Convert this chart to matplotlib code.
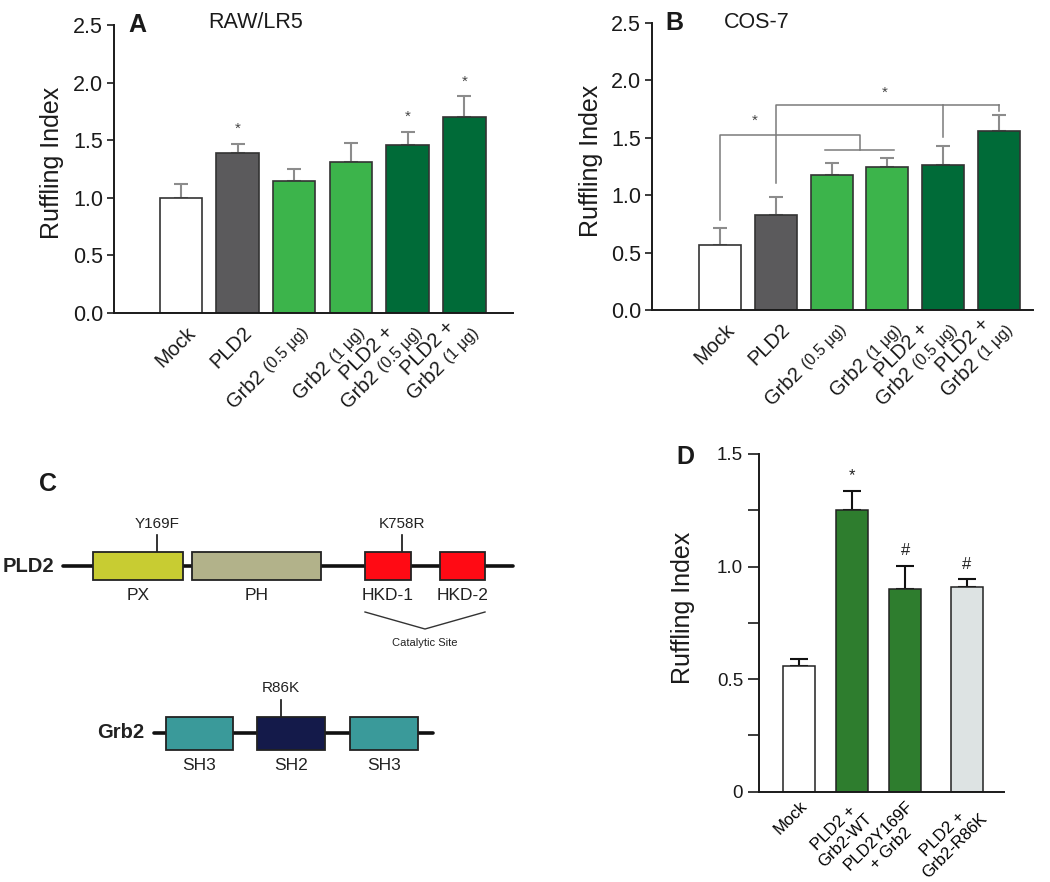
import matplotlib
matplotlib.use('Agg')
import matplotlib.pyplot as plt
import numpy as np
from matplotlib.font_manager import FontProperties
from matplotlib.patches import Rectangle

plt.rcParams['font.family'] = ['Liberation Sans', 'DejaVu Sans']

# ---------------- data ----------------
ab_label_lines = [
    [('Mock', '')],
    [('PLD2', '')],
    [('Grb2', '(0.5 μg)')],
    [('Grb2', '(1 μg)')],
    [('PLD2 +', ''), ('Grb2', '(0.5 μg)')],
    [('PLD2 +', ''), ('Grb2', '(1 μg)')],
]
ab_colors = ['#ffffff', '#5b5a5c', '#3cb44b', '#3cb44b', '#006b38', '#006b38']

a_values = [1.00, 1.39, 1.15, 1.31, 1.455, 1.70]
a_errors = [0.12, 0.08, 0.10, 0.17, 0.115, 0.18]
a_marks = ['', '*', '', '', '*', '*']

b_values = [0.57, 0.83, 1.175, 1.245, 1.26, 1.56]
b_errors = [0.145, 0.153, 0.105, 0.076, 0.168, 0.14]

# B significance brackets
b_bracket1 = dict(src=0, dst=[2, 3], start=0.783, top=1.528, sub=1.392, star=(0.62, 1.65))
b_bracket2 = dict(src=1, dst=[4, 5], start=1.102, top=1.784, ends=[1.508, 1.735], star=(2.95, 1.895))

d_labels = ['Mock', 'PLD2 +\nGrb2-WT', 'PLD2Y169F\n+ Grb2', 'PLD2 +\nGrb2-R86K']
d_values = [0.558, 1.25, 0.899, 0.908]
d_errors = [0.03, 0.086, 0.104, 0.035]
d_marks = ['', '*', '#', '#']
d_colors = ['#ffffff', '#2e7d2e', '#2e7d2e', '#dde3e3']

# Panel C schematic (diagram units)
pld2_span = (63, 513)
pld2_domains = ['PX', 'PH', 'HKD-1', 'HKD-2']
pld2_starts = [93, 192, 365, 440]
pld2_ends = [183, 321, 411, 485]
pld2_colors = ['#c8cc32', '#b2b28a', '#ff0a14', '#ff0a14']
pld2_mut_labels = ['Y169F', 'K758R']
pld2_mut_pos = [157, 402]
grb2_span = (154, 433)
grb2_domains = ['SH3', 'SH2', 'SH3']
grb2_starts = [166, 257, 350]
grb2_ends = [233, 325, 418]
grb2_colors = ['#3a9a9a', '#141a4a', '#3a9a9a']
grb2_mut_labels = ['R86K']
grb2_mut_pos = [281]

W, H = 1050, 882
fig = plt.figure(figsize=(W / 100, H / 100), dpi=100)
renderer = fig.canvas.get_renderer()
TXT = '#1a1a1a'


def ax_px(l, r, top, bottom):
    return fig.add_axes([l / W, 1 - bottom / H, (r - l) / W, (bottom - top) / H])


def text_w(s, size):
    prop = FontProperties(family='Liberation Sans', size=size)
    w, h, d = renderer.get_text_width_height_descent(s, prop, ismath=False)
    return w * 72 / fig.dpi


def rotated_labels(ax, xs, label_lines, main_size, small_size, step, anchor):
    c = s = np.sqrt(0.5)
    trans = ax.get_xaxis_transform()
    for x, lines in zip(xs, label_lines):
        widths = []
        for main, small in lines:
            w = text_w(main, main_size)
            if small:
                w += 0.3 * main_size + text_w(small, small_size)
            widths.append(w)
        n = len(lines)
        uc = -widths[-1] / 2
        for i, ((main, small), w) in enumerate(zip(lines, widths)):
            v = (n - 1 - i) * step
            u0 = uc - w / 2

            def pos(u):
                return (anchor[0] + u * c - v * s, anchor[1] + u * s + v * c)
            ax.annotate(main, xy=(x, 0), xycoords=trans, xytext=pos(u0),
                        textcoords='offset points', rotation=45, rotation_mode='anchor',
                        ha='left', va='baseline', fontsize=main_size, color=TXT,
                        annotation_clip=False)
            if small:
                u1 = u0 + text_w(main, main_size) + 0.3 * main_size
                ax.annotate(small, xy=(x, 0), xycoords=trans, xytext=pos(u1),
                            textcoords='offset points', rotation=45, rotation_mode='anchor',
                            ha='left', va='baseline', fontsize=small_size, color=TXT,
                            annotation_clip=False)


def style_ab(ax, xlim):
    ax.set_xlim(*xlim)
    ax.set_ylim(0, 2.5)
    for sp in ['top', 'right']:
        ax.spines[sp].set_visible(False)
    for sp in ['left', 'bottom']:
        ax.spines[sp].set_linewidth(1.4)
        ax.spines[sp].set_color(TXT)
    ticks = np.arange(0, 2.51, 0.5)
    ax.set_yticks(ticks)
    ax.set_yticklabels(['%.1f' % t for t in ticks])
    ax.tick_params(axis='y', length=5, width=1.2, labelsize=15.5, pad=3, colors=TXT)
    ax.tick_params(axis='x', length=0, labelbottom=False)
    ax.set_ylabel('Ruffling Index', fontsize=18, va='center', color=TXT)


def bars_ab(ax, values, errors):
    x = np.arange(len(values))
    ax.errorbar(x, values, yerr=[np.zeros(len(errors)), errors], fmt='none',
                ecolor='#8c8c8c', elinewidth=1.5, capsize=4.8, capthick=1.5, zorder=1)
    ax.bar(x, values, width=0.75, color=ab_colors, edgecolor='#333333', linewidth=1.2, zorder=2)
    return x


# ---------------- Panel A ----------------
axA = ax_px(114, 513, 25, 313)
xA = bars_ab(axA, a_values, a_errors)
style_ab(axA, (-1.18, 5.86))
axA.yaxis.set_label_coords(-0.155, 0.52)
for xi, v, e, m in zip(xA, a_values, a_errors, a_marks):
    if m:
        axA.text(xi, v + e + 0.07, m, ha='center', va='bottom', fontsize=11, color='#444444')
rotated_labels(axA, xA, ab_label_lines, 14.5, 11.5, 15, (11, -15))
axA.text(0.058, 1.0, 'A', transform=axA.transAxes, fontsize=18, fontweight='bold',
         ha='center', va='center', color=TXT)
fig.text(256 / W, 1 - 23 / H, 'RAW/LR5', fontsize=15.5, ha='center', va='center', color=TXT)

# ---------------- Panel B ----------------
axB = ax_px(652, 1033, 23, 310)
xB = bars_ab(axB, b_values, b_errors)
style_ab(axB, (-1.22, 5.61))
axB.yaxis.set_label_coords(-0.16, 0.52)
bc = '#7a7a7a'
br = b_bracket1
mid = np.mean(br['dst'])
axB.plot([br['src'], br['src'], mid, mid], [br['start'], br['top'], br['top'], br['sub']],
         color=bc, lw=1.1, zorder=3)
axB.plot([br['dst'][0] - 0.12, br['dst'][1] + 0.12], [br['sub'], br['sub']], color=bc, lw=1.1, zorder=3)
axB.text(*br['star'], '*', ha='center', va='center', fontsize=11, color='#444444')
br = b_bracket2
axB.plot([br['src'], br['src'], br['dst'][1]], [br['start'], br['top'], br['top']], color=bc, lw=1.1, zorder=3)
for d, e in zip(br['dst'], br['ends']):
    axB.plot([d, d], [br['top'], e], color=bc, lw=1.1, zorder=3)
axB.text(*br['star'], '*', ha='center', va='center', fontsize=11, color='#444444')
rotated_labels(axB, xB, ab_label_lines, 14.5, 11.5, 15, (11, -15))
axB.text(0.06, 1.0, 'B', transform=axB.transAxes, fontsize=18, fontweight='bold',
         ha='center', va='center', color=TXT)
fig.text(757 / W, 1 - 22 / H, 'COS-7', fontsize=15.5, ha='center', va='center', color=TXT)

# ---------------- Panel D ----------------
axD = ax_px(759, 1004, 454, 791.7)
xD = np.array([0, 1, 2, 3.15])
axD.errorbar(xD, d_values, yerr=[np.zeros(4), d_errors], fmt='none', ecolor='#111111',
             elinewidth=1.5, capsize=6.5, capthick=1.5, zorder=1)
axD.bar(xD, d_values, width=0.6, color=d_colors, edgecolor='#222222', linewidth=1.1, zorder=2)
for xi, v, e, m in zip(xD, d_values, d_errors, d_marks):
    if m:
        axD.text(xi, v + e + 0.035, m, ha='center', va='bottom', fontsize=12, color='#222222')
axD.set_xlim(-0.75, 3.85)
axD.set_ylim(0, 1.5)
for sp in ['top', 'right']:
    axD.spines[sp].set_visible(False)
for sp in ['left', 'bottom']:
    axD.spines[sp].set_linewidth(1.4)
    axD.spines[sp].set_color(TXT)
axD.set_yticks([0, 0.5, 1.0, 1.5])
axD.set_yticklabels(['0', '0.5', '1.0', '1.5'])
axD.set_yticks([0.25, 0.75, 1.25], minor=True)
axD.tick_params(axis='y', which='both', length=8, width=1.2, labelsize=13.5, colors=TXT)
axD.set_xticks(xD)
axD.set_xticklabels(d_labels, rotation=45, ha='right', va='top', rotation_mode='anchor',
                    multialignment='center', fontsize=12, linespacing=1.2)
axD.tick_params(axis='x', length=0, pad=5)
axD.set_ylabel('Ruffling Index', fontsize=18, va='center', color=TXT)
axD.yaxis.set_label_coords(-0.31, 0.545)
fig.text(685 / W, 1 - 457 / H, 'D', fontsize=18, fontweight='bold', ha='center', va='center',
         color=TXT)

# ---------------- Panel C ----------------
axC = ax_px(0, 640, 440, 882)
axC.set_xlim(0, 640)
axC.set_ylim(882, 440)
axC.axis('off')
axC.text(48, 484, 'C', fontsize=18, fontweight='bold', ha='center', va='center', color=TXT)


def draw_protein(name, name_x, y, span, starts, ends, colors, labels, half_h,
                 mut_pos, mut_labels, lab_dy):
    axC.plot(span, [y, y], color='#111111', lw=2.6, solid_capstyle='round', zorder=1)
    for s0, e0, col, lab in zip(starts, ends, colors, labels):
        axC.add_patch(Rectangle((s0, y - half_h), e0 - s0, 2 * half_h, facecolor=col,
                                edgecolor='#222222', lw=1.3, zorder=2))
        axC.text((s0 + e0) / 2, y + lab_dy, lab, ha='center', va='center', fontsize=12.5,
                 color='#222222')
    for mp, ml in zip(mut_pos, mut_labels):
        axC.plot([mp, mp], [y - half_h, y - half_h - 17], color='#111111', lw=1.2, zorder=1)
        axC.text(mp, y - half_h - 21, ml, ha='center', va='bottom', fontsize=11, color='#222222')
    axC.text(name_x, y, name, ha='right', va='center', fontsize=14.5, fontweight='bold',
             color='#222222')


draw_protein('PLD2', 54, 566, pld2_span, pld2_starts, pld2_ends, pld2_colors, pld2_domains, 14,
             pld2_mut_pos, pld2_mut_labels, 29)
draw_protein('Grb2', 144, 733, grb2_span, grb2_starts, grb2_ends, grb2_colors, grb2_domains, 16.5,
             grb2_mut_pos, grb2_mut_labels, 33)
# catalytic site bracket
cat_l, cat_r = pld2_starts[2], pld2_ends[3]
cat_mid = (cat_l + cat_r) / 2
axC.plot([cat_l, cat_mid, cat_r], [612, 629, 612], color='#333333', lw=1.0)
axC.text(cat_mid, 643, 'Catalytic Site', ha='center', va='center', fontsize=8, color='#222222')

fig.savefig('out.png', dpi=100)
